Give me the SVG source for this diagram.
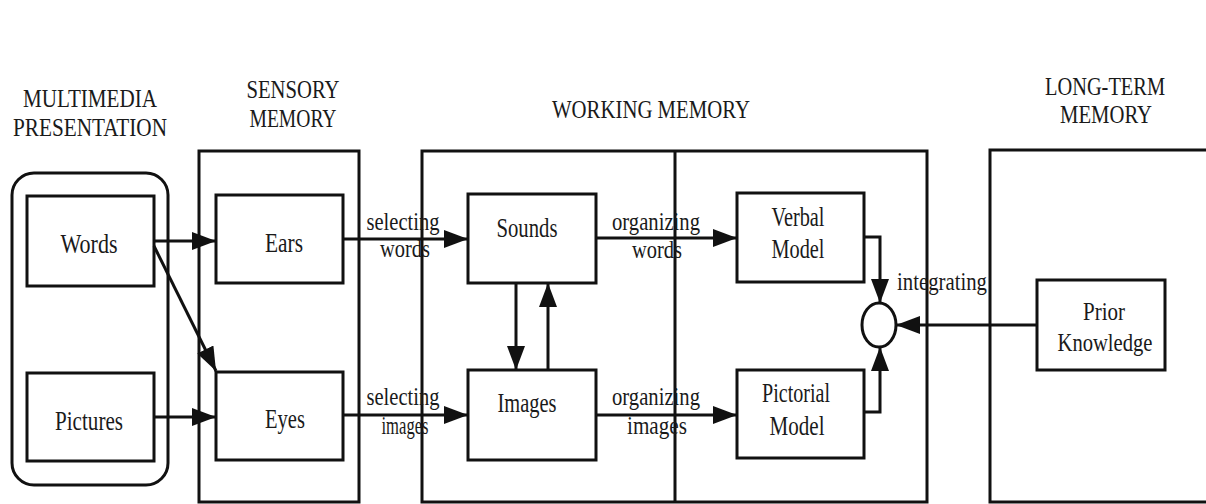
<svg xmlns="http://www.w3.org/2000/svg" width="1206" height="504" viewBox="0 0 1206 504">
<style>
.box{fill:none;stroke:#111;stroke-width:3}
.ln{fill:none;stroke:#111;stroke-width:3}
.t{font-family:"Liberation Serif","Times New Roman",serif;font-size:28px;fill:#1a1a1a;text-anchor:middle}
.h{font-family:"Liberation Serif","Times New Roman",serif;font-size:26px;fill:#1a1a1a;text-anchor:middle}
.l{font-family:"Liberation Serif","Times New Roman",serif;font-size:25px;fill:#1a1a1a;text-anchor:middle}
</style>
<defs>
<marker id="ah" markerUnits="userSpaceOnUse" markerWidth="26" markerHeight="20" refX="24" refY="9" orient="auto">
<path d="M0,0 L24,9 L0,18 z" fill="#111"/>
</marker>
</defs>
<rect width="1206" height="504" fill="#fff"/>

<g id="multimedia-presentation">
<rect class="box" x="12" y="173" width="156" height="312" rx="22"/>
<text class="h" x="90" y="107" textLength="134" lengthAdjust="spacingAndGlyphs">MULTIMEDIA</text>
<text class="h" x="90" y="136" textLength="154" lengthAdjust="spacingAndGlyphs">PRESENTATION</text>
</g>
<g id="sensory-memory">
<rect class="box" x="199" y="151" width="160" height="351"/>
<text class="h" x="293" y="98" textLength="93" lengthAdjust="spacingAndGlyphs">SENSORY</text>
<text class="h" x="293" y="127" textLength="87" lengthAdjust="spacingAndGlyphs">MEMORY</text>
</g>
<g id="working-memory">
<rect class="box" x="422" y="151" width="505" height="351"/>
<line class="ln" x1="675" y1="151" x2="675" y2="502"/>
<text class="h" x="651" y="118" textLength="198" lengthAdjust="spacingAndGlyphs">WORKING MEMORY</text>
</g>
<g id="long-term-memory">
<path class="box" d="M1210,150 L990,150 L990,502 L1210,502"/>
<text class="h" x="1105" y="95" textLength="120" lengthAdjust="spacingAndGlyphs">LONG-TERM</text>
<text class="h" x="1106" y="123" textLength="92" lengthAdjust="spacingAndGlyphs">MEMORY</text>
</g>

<g id="words">
<rect class="box" x="27" y="196" width="127" height="90"/>
<text class="t" x="89" y="253" textLength="57" lengthAdjust="spacingAndGlyphs">Words</text>
</g>
<g id="pictures">
<rect class="box" x="27" y="373" width="127" height="88"/>
<text class="t" x="89" y="430" textLength="68" lengthAdjust="spacingAndGlyphs">Pictures</text>
</g>
<g id="ears">
<rect class="box" x="216" y="195" width="127" height="88"/>
<text class="t" x="284" y="252" textLength="38" lengthAdjust="spacingAndGlyphs">Ears</text>
</g>
<g id="eyes">
<rect class="box" x="216" y="372" width="127" height="88"/>
<text class="t" x="285" y="428" textLength="40" lengthAdjust="spacingAndGlyphs">Eyes</text>
</g>
<g id="sounds">
<rect class="box" x="468" y="194" width="128" height="89"/>
<text class="t" x="527" y="237" textLength="61" lengthAdjust="spacingAndGlyphs">Sounds</text>
</g>
<g id="images">
<rect class="box" x="468" y="370" width="128" height="90"/>
<text class="t" x="527" y="412" textLength="59" lengthAdjust="spacingAndGlyphs">Images</text>
</g>
<g id="verbal-model">
<rect class="box" x="737" y="193" width="127" height="89"/>
<text class="t" x="798" y="226" textLength="53" lengthAdjust="spacingAndGlyphs">Verbal</text>
<text class="t" x="798" y="258" textLength="53" lengthAdjust="spacingAndGlyphs">Model</text>
</g>
<g id="pictorial-model">
<rect class="box" x="737" y="370" width="127" height="88"/>
<text class="t" x="796" y="402" textLength="68" lengthAdjust="spacingAndGlyphs">Pictorial</text>
<text class="t" x="797" y="435" textLength="55" lengthAdjust="spacingAndGlyphs">Model</text>
</g>
<g id="integration">
<ellipse class="box" cx="879" cy="325" rx="17" ry="22"/>
</g>
<g id="prior-knowledge">
<rect class="box" x="1037" y="280" width="128" height="90"/>
<text class="h" x="1104" y="320" textLength="42" lengthAdjust="spacingAndGlyphs">Prior</text>
<text class="h" x="1105" y="351" textLength="95" lengthAdjust="spacingAndGlyphs">Knowledge</text>
</g>

<g id="connectors">
<line class="ln" x1="154" y1="241" x2="216" y2="241" marker-end="url(#ah)"/>
<line class="ln" x1="154" y1="246" x2="216" y2="371" marker-end="url(#ah)"/>
<line class="ln" x1="154" y1="417" x2="216" y2="417" marker-end="url(#ah)"/>
<line class="ln" x1="343" y1="239" x2="468" y2="239" marker-end="url(#ah)"/>
<line class="ln" x1="343" y1="415" x2="468" y2="415" marker-end="url(#ah)"/>
<line class="ln" x1="516" y1="283" x2="516" y2="370" marker-end="url(#ah)"/>
<line class="ln" x1="548" y1="370" x2="548" y2="283" marker-end="url(#ah)"/>
<line class="ln" x1="596" y1="238" x2="737" y2="238" marker-end="url(#ah)"/>
<line class="ln" x1="596" y1="415" x2="737" y2="415" marker-end="url(#ah)"/>
<path class="ln" d="M864,237 L880,237 L880,303" marker-end="url(#ah)"/>
<path class="ln" d="M864,412 L880,412 L880,347" marker-end="url(#ah)"/>
<line class="ln" x1="1037" y1="325" x2="896" y2="325" marker-end="url(#ah)"/>
<text class="l" x="403" y="230" textLength="73" lengthAdjust="spacingAndGlyphs">selecting</text>
<text class="l" x="405" y="257" textLength="50" lengthAdjust="spacingAndGlyphs">words</text>
<text class="l" x="403" y="405" textLength="73" lengthAdjust="spacingAndGlyphs">selecting</text>
<text class="l" x="405" y="434" textLength="47" lengthAdjust="spacingAndGlyphs">images</text>
<text class="l" x="656" y="230" textLength="88" lengthAdjust="spacingAndGlyphs">organizing</text>
<text class="l" x="657" y="258" textLength="50" lengthAdjust="spacingAndGlyphs">words</text>
<text class="l" x="656" y="405" textLength="88" lengthAdjust="spacingAndGlyphs">organizing</text>
<text class="l" x="657" y="434" textLength="60" lengthAdjust="spacingAndGlyphs">images</text>
<text class="l" x="942" y="290" textLength="90" lengthAdjust="spacingAndGlyphs">integrating</text>
</g>
</svg>
